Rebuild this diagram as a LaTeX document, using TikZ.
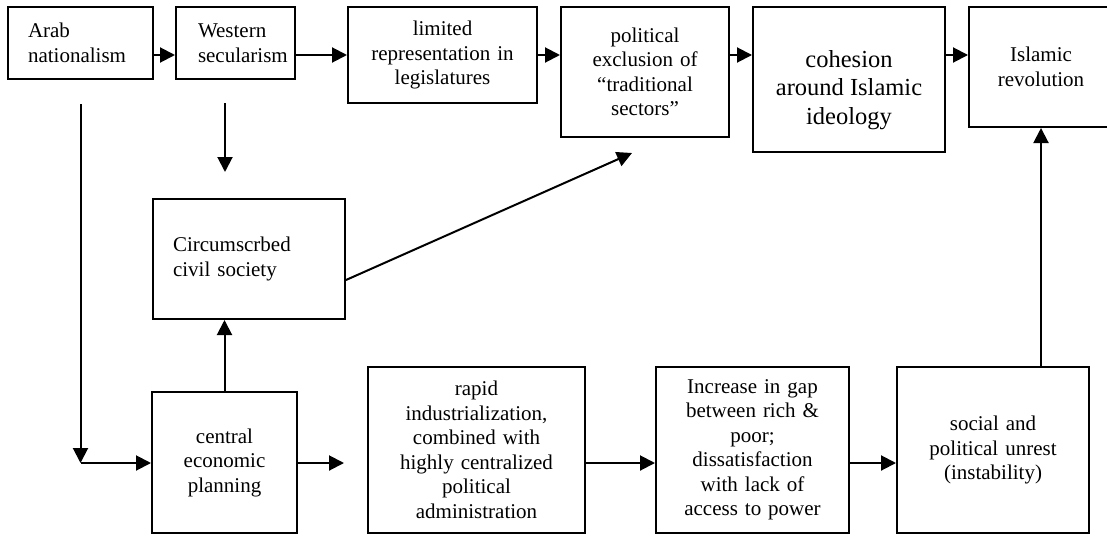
\documentclass[tikz,border=0pt]{standalone}
\usepackage{fontspec}
\setmainfont{Liberation Serif}
\usetikzlibrary{arrows.meta}

\tikzset{
	box/.style={draw, line width=2pt, inner sep=0pt, align=center, font=\fontsize{21}{24.5}\selectfont},
	bigtext/.style={align=center, inner sep=0pt, font=\fontsize{24.5}{28.5}\selectfont},
	arr/.style={line width=2pt, -{Triangle[length=15pt,width=15pt]}}
}

\begin{document}
\begin{tikzpicture}[x=1pt, y=-1pt]
		\useasboundingbox (0,0) rectangle (1107,535);
		\coordinate (toprow) at (0,55);
		\coordinate (lowrow) at (0,463);
		\coordinate (wdrop) at (225,103);
		\coordinate (ptip) at (632,153);
		\node[box, align=left, minimum width=145pt, minimum height=72pt, text width=105pt] (arab) at (80.5,43) {Arab\\nationalism};
		\node[box, align=left, minimum width=119pt, minimum height=72pt, text width=75pt] (west) at (235.5,43) {Western\\secularism};
		\node[box, minimum width=189pt, minimum height=96pt, text width=170pt] (limited) at (442.5,55) {limited\\representation in\\legislatures};
		\node[box, minimum width=168pt, minimum height=130pt, text width=150pt] (polit) at (645,72) {political\\exclusion of\\“traditional\\sectors”};
		\node[box, minimum width=192pt, minimum height=145pt] (coh) at (849,79.5) {};
		\node[bigtext] (cohtext) at (849,90) {cohesion\\around Islamic\\ideology};
		\node[box, minimum width=144pt, minimum height=120pt, text width=130pt] (islam) at (1041,67) {Islamic\\revolution};
		\node[box, align=left, minimum width=192pt, minimum height=120pt, text width=152pt] (circ) at (249,259) {Circumscrbed\\civil society};
		\node[box, minimum width=145pt, minimum height=141pt, text width=130pt] (central) at (224.5,462.5) {central\\economic\\planning};
		\node[box, minimum width=217pt, minimum height=166pt, text width=200pt] (rapid) at (476.5,450) {rapid\\industrialization,\\combined with\\highly centralized\\political\\administration};
		\node[box, minimum width=193pt, minimum height=166pt, text width=175pt] (incr) at (752.5,450) {Increase in gap\\between rich \&\\poor;\\dissatisfaction\\with lack of\\access to power};
		\node[box, minimum width=192pt, minimum height=166pt, text width=175pt] (social) at (993,450) {social and\\political unrest\\(instability)};
		\draw[arr] (arab.east |- toprow) -- (west.west |- toprow);
		\draw[arr] (west.east |- toprow) -- (limited.west |- toprow);
		\draw[arr] (limited.east |- toprow) -- (polit.west |- toprow);
		\draw[arr] (polit.east |- toprow) -- (coh.west |- toprow);
		\draw[arr] (coh.east |- toprow) -- (islam.west |- toprow);
		\draw[arr] ([yshift=-24pt]arab.south) -- (arab.south |- lowrow);
		\draw[arr] (arab.south |- lowrow) -- (central.west |- lowrow);
		\draw[arr, shorten >=26pt] (wdrop) -- (wdrop |- circ.north);
		\draw[arr] (central.north) -- (central.north |- circ.south);
		\draw[arr] ([yshift=-21pt]circ.east) -- (ptip);
		\draw[arr, shorten >=23pt] (central.east |- lowrow) -- (rapid.west |- lowrow);
		\draw[arr] (rapid.east |- lowrow) -- (incr.west |- lowrow);
		\draw[arr] (incr.east |- lowrow) -- (social.west |- lowrow);
		\draw[arr] (islam.south |- social.north) -- (islam.south);
\end{tikzpicture}
\end{document}
